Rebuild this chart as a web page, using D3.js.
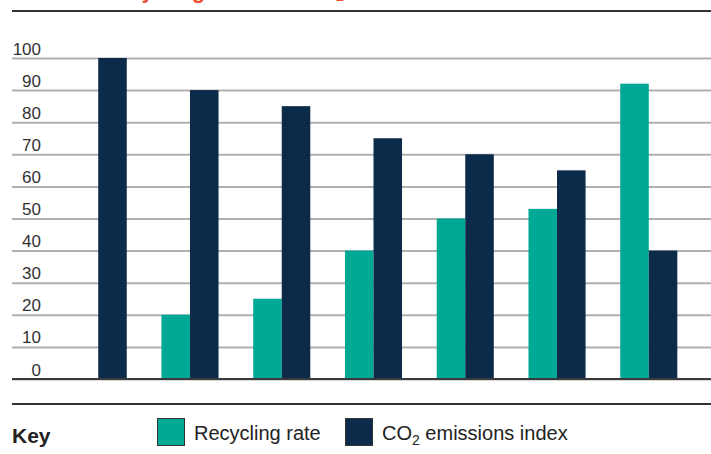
<!DOCTYPE html>
<html>
<head>
<meta charset="utf-8">
<script src="https://cdn.jsdelivr.net/npm/d3@7"></script>
<style>
  body { margin: 0; background: #fff; }
  svg { font-family: "Liberation Sans", Arial, sans-serif; display: block; }
</style>
</head>
<body>
<svg id="chart" width="711" height="454"></svg>
<script>
// data
const groups = ['1', '2', '3', '4', '5', '6', '7'];
const recycling = [0, 20, 25, 40, 50, 53, 92];
const emissions = [100, 90, 85, 75, 70, 65, 40];
const yTicks = [0, 10, 20, 30, 40, 50, 60, 70, 80, 90, 100];
const seriesNames = ['Recycling rate', 'CO2 emissions index'];
const colours = ['#00a896', '#0c2a49'];

const svg = d3.select('#chart'),
    W = 711,
    plotLeft = 12,
    plotTop = 58,
    plotBottom = 379;

// title, cut off by the top edge in the original too
let title = svg.append('text')
  .attr('x', 12).attr('y', -2.5)
  .attr('fill', '#e9502f')
  .style('font-size', '22px').style('font-weight', 'bold');
title.append('tspan').text('Chart 1: Recycling rate and CO');
title.append('tspan').attr('dy', 3).style('font-size', '14px').text('2');
title.append('tspan').attr('dy', -3).text(' emissions');

svg.append('line')
  .attr('x1', 12).attr('x2', W).attr('y1', 11).attr('y2', 11)
  .attr('stroke', '#333').attr('stroke-width', 2);

let x0 = d3.scaleBand().domain(groups).range([35, 712]).paddingInner(0.378).paddingOuter(0.378),
    x1 = d3.scaleBand().domain([0, 1]).range([0, x0.bandwidth()]),
    y = d3.scaleLinear().domain([0, 100]).range([plotBottom, plotTop]);

// bars
let g = svg.selectAll('.group')
  .data(groups)
  .enter().append('g')
    .attr('class', 'group')
    .attr('transform', d => `translate(${x0(d)},0)`);

g.selectAll('rect')
  .data((d, i) => [recycling[i], emissions[i]])
  .enter().append('rect')
    .attr('x', (d, i) => x1(i))
    .attr('width', x1.bandwidth())
    .attr('y', d => y(d))
    .attr('height', d => plotBottom - y(d))
    .attr('fill', (d, i) => colours[i]);

// grid + labels through the axis (drawn under the bars except the zero line)
let ax = svg.insert('g', '.group')
  .attr('transform', `translate(${plotLeft},0)`)
  .call(d3.axisRight(y).tickValues(yTicks).tickSize(W - plotLeft).tickFormat(d => d));
ax.select('.domain').remove();
ax.selectAll('.tick line')
  .attr('stroke', '#b0b0b0')
  .attr('stroke-width', 2);
ax.selectAll('.tick text')
  .attr('x', 29).attr('dy', '-4px')
  .attr('text-anchor', 'end')
  .attr('fill', '#333')
  .style('font-size', '17px');

svg.append('line')
  .attr('x1', plotLeft).attr('x2', W)
  .attr('y1', y(0)).attr('y2', y(0))
  .attr('stroke', '#3a3a3a').attr('stroke-width', 2);

// key
svg.append('line')
  .attr('x1', 12).attr('x2', W).attr('y1', 404).attr('y2', 404)
  .attr('stroke', '#333').attr('stroke-width', 2);

svg.append('text')
  .attr('x', 12).attr('y', 443)
  .attr('fill', '#222')
  .style('font-size', '21px').style('font-weight', 'bold')
  .text('Key');

const keyX = [157, 345];
let key = svg.selectAll('.key')
  .data(seriesNames)
  .enter().append('g')
    .attr('class', 'key')
    .attr('transform', (d, i) => `translate(${keyX[i]},418)`);

key.append('rect')
  .attr('x', 0.5).attr('y', 0.5)
  .attr('width', 27).attr('height', 27)
  .attr('fill', (d, i) => colours[i])
  .attr('stroke', '#333').attr('stroke-width', 1);

key.append('text')
  .attr('x', 37).attr('y', 22)
  .attr('fill', '#222')
  .style('font-size', '20px')
  .each(function (d) {
    let t = d3.select(this);
    if (d.indexOf('CO2') === 0) {
      t.append('tspan').text('CO');
      t.append('tspan').attr('dy', 5).style('font-size', '14px').text('2');
      t.append('tspan').attr('dy', -5).text(d.slice(3));
    } else {
      t.text(d);
    }
  });
</script>
</body>
</html>
